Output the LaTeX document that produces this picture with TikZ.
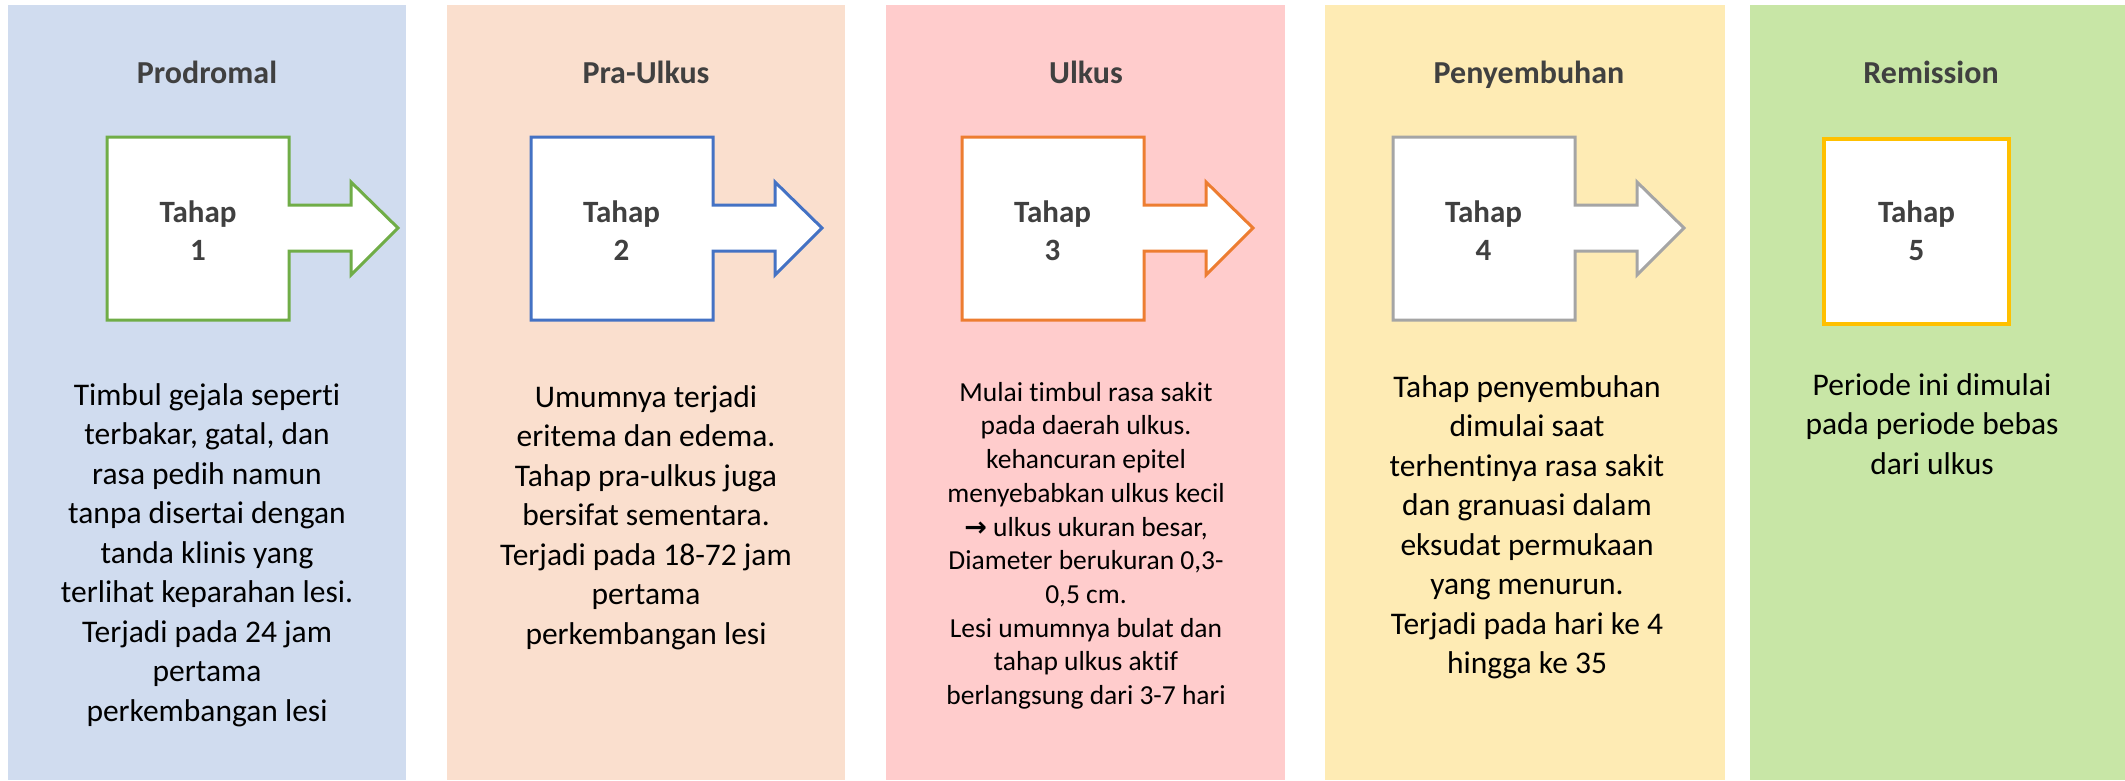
\documentclass[tikz,border=0pt]{standalone}
\usepackage{fontspec}
\setmainfont{Carlito}[Ligatures=NoCommon]
\newfontfamily\symfont{DejaVu Sans}
\definecolor{panA}{HTML}{D0DCEF}
\definecolor{panB}{HTML}{FADFCE}
\definecolor{panC}{HTML}{FFCCCC}
\definecolor{panD}{HTML}{FEEBB4}
\definecolor{panE}{HTML}{C8E6A6}
\definecolor{arA}{HTML}{70AD47}
\definecolor{arB}{HTML}{4472C4}
\definecolor{arC}{HTML}{ED7D31}
\definecolor{arD}{HTML}{A5A5A5}
\definecolor{arE}{HTML}{FFC000}
\definecolor{headgray}{HTML}{404040}
\newcommand\fla{\rule{0pt}{25pt}}
\newcommand\flb{\rule{0pt}{22pt}}
\tikzset{
  panel/.style={draw=none, inner sep=0pt, outer sep=0pt},
  head/.style={font=\fontsize{32}{38}\selectfont\bfseries, text=headgray, anchor=base, inner sep=0pt},
  tahap/.style={font=\fontsize{31}{38}\selectfont\bfseries, text=headgray, align=center, anchor=north, inner sep=0pt},
  body/.style={font=\fontsize{31.5}{39.5}\selectfont, text=black, align=center, anchor=north, inner sep=0pt},
  smallbody/.style={font=\fontsize{27.5}{33.7}\selectfont, text=black, align=center, anchor=north, inner sep=0pt},
  pics/stagearrow/.style={code={
    \draw[line width=3pt, fill=white, draw=#1, line join=miter]
      (0,0) -- (182,0) -- (182,68) -- (244,68) -- (244,45) -- (291,91)
      -- (244,138) -- (244,114) -- (182,114) -- (182,183) -- (0,183) -- cycle;
  }}
}
\begin{document}
\begin{tikzpicture}[x=1pt,y=-1pt]
\useasboundingbox (0,0) rectangle (2125,780);
\fill[white] (0,0) rectangle (2125,780);
% panels
\node[panel, fill=panA, minimum width=398pt, minimum height=775pt] (pA) at (207,392.5) {};
\node[panel, fill=panB, minimum width=398pt, minimum height=775pt] (pB) at (646,392.5) {};
\node[panel, fill=panC, minimum width=399pt, minimum height=775pt] (pC) at (1085.5,392.5) {};
\node[panel, fill=panD, minimum width=400pt, minimum height=775pt] (pD) at (1525,392.5) {};
\node[panel, fill=panE, minimum width=375pt, minimum height=775pt] (pE) at (1937.5,392.5) {};
% headings
\node[head] (hA) at (207,83) {Prodromal};
\node[head] (hB) at (646,83) {Pra-Ulkus};
\node[head] (hC) at (1086,83) {Ulkus};
\node[head] (hD) at (1529,83) {Penyembuhan};
\node[head] (hE) at (1931,83) {Remission};
% stage arrows
\pic at (107,137) {stagearrow=arA};
\pic at (531,137) {stagearrow=arB};
\pic at (962,137) {stagearrow=arC};
\pic at (1393,137) {stagearrow=arD};
\node[draw=arE, line width=3.3pt, fill=white, minimum width=185pt, minimum height=185pt, inner sep=0pt] (bE) at (1916.5,231.5) {};
% stage labels
\node[tahap] (tA) at (198,197) {\fla Tahap\\1};
\node[tahap] (tB) at (621.5,197) {\fla Tahap\\2};
\node[tahap] (tC) at (1052.5,197) {\fla Tahap\\3};
\node[tahap] (tD) at (1483.5,197) {\fla Tahap\\4};
\node[tahap] (tE) at (1916.5,197) {\fla Tahap\\5};
% descriptions
\node[body] (dA) at (207,380) {\fla Timbul gejala seperti\\terbakar, gatal, dan\\rasa pedih namun\\tanpa disertai dengan\\tanda klinis yang\\terlihat keparahan lesi.\\Terjadi pada 24 jam\\pertama\\perkembangan lesi};
\node[body] (dB) at (646,382) {\fla Umumnya terjadi\\eritema dan edema.\\Tahap pra-ulkus juga\\bersifat sementara.\\Terjadi pada 18-72 jam\\pertama\\perkembangan lesi};
\node[smallbody] (dC) at (1086,379) {\flb Mulai timbul rasa sakit\\pada daerah ulkus.\\kehancuran epitel\\menyebabkan ulkus kecil\\{\symfont\bfseries\fontsize{27}{30}\selectfont →} ulkus ukuran besar,\\Diameter berukuran 0,3-\\0,5 cm.\\Lesi umumnya bulat dan\\tahap ulkus aktif\\berlangsung dari 3-7 hari};
\node[body] (dD) at (1527,372) {\fla Tahap penyembuhan\\dimulai saat\\terhentinya rasa sakit\\dan granuasi dalam\\eksudat permukaan\\yang menurun.\\Terjadi pada hari ke 4\\hingga ke 35};
\node[body] (dE) at (1932,370) {\fla Periode ini dimulai\\pada periode bebas\\dari ulkus};
\end{tikzpicture}
\end{document}
